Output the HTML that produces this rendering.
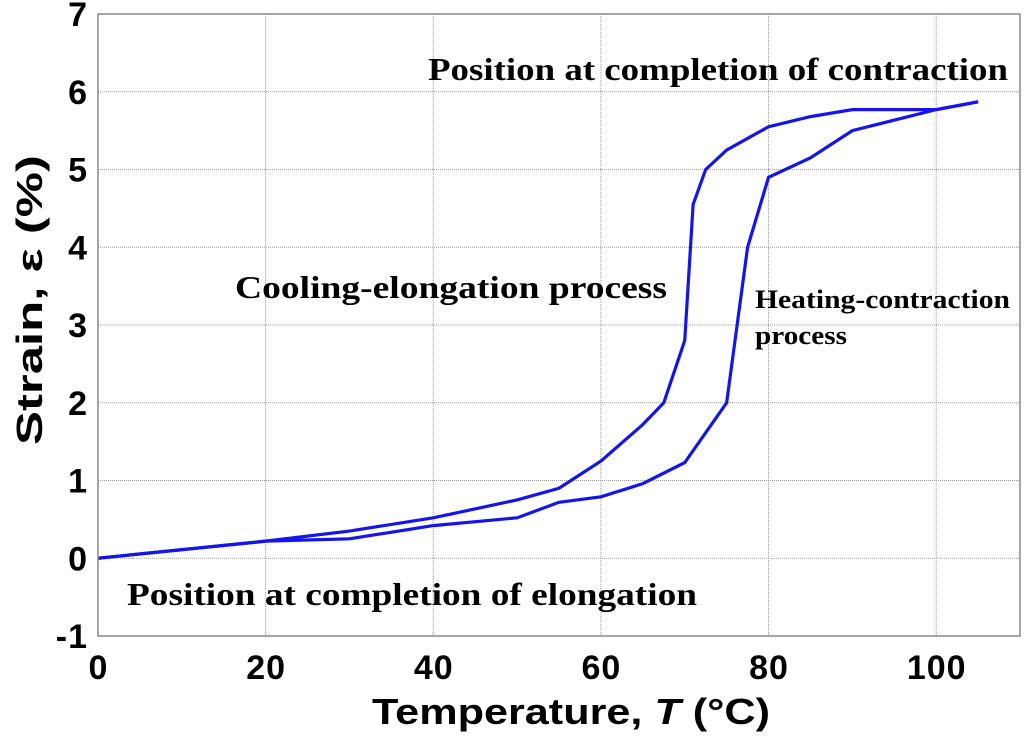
<!DOCTYPE html>
<html><head><meta charset="utf-8"><style>
body{margin:0;background:#fff;}
svg text{font-family:"Liberation Sans",sans-serif;}
.tk{font-size:34px;font-weight:bold;fill:#000;letter-spacing:1px;}
.an{font-family:"Liberation Serif",serif !important;font-weight:bold;fill:#000;}
</style></head><body>
<svg id="c" width="1024" height="732" xmlns="http://www.w3.org/2000/svg">
<g id="grid"></g>
<g id="ticks"></g>
<g id="lines"></g>
<rect x="98" y="14" width="922" height="622" fill="none" stroke="#888" stroke-width="1.5"/>
<text class="an" x="428" y="80" font-size="32" textLength="580" lengthAdjust="spacingAndGlyphs">Position at completion of contraction</text>
<text class="an" x="235" y="298" font-size="32" textLength="432" lengthAdjust="spacingAndGlyphs">Cooling-elongation process</text>
<text class="an" x="755" y="308" font-size="26" textLength="255" lengthAdjust="spacingAndGlyphs">Heating-contraction</text>
<text class="an" x="755" y="344" font-size="26" textLength="92" lengthAdjust="spacingAndGlyphs">process</text>
<text class="an" x="127" y="605" font-size="32" textLength="570" lengthAdjust="spacingAndGlyphs">Position at completion of elongation</text>
<text x="372" y="724" font-size="36" font-weight="bold" textLength="398" lengthAdjust="spacingAndGlyphs">Temperature, <tspan font-style="italic">T</tspan> (°C)</text>
<text transform="translate(42,445) rotate(-90)" font-size="36" font-weight="bold" textLength="290" lengthAdjust="spacingAndGlyphs">Strain, ε (%)</text>
</svg>
<script>
const xTicks=[0,20,40,60,80,100];
const yTicks=[-1,0,1,2,3,4,5,6,7];
const heatT=[0,20,30,40,50,55,60,65,70,75,77.5,80,85,90,100,105];
const heatS=[0,0.22,0.25,0.42,0.52,0.72,0.79,0.96,1.23,2.0,4.0,4.9,5.15,5.5,5.77,5.87];
const coolT=[105,100,90,85,80,75,72.5,71,70,67.5,65,60,55,50,40,30,20,0];
const coolS=[5.87,5.77,5.77,5.68,5.55,5.25,5.0,4.55,2.8,2.0,1.72,1.25,0.9,0.75,0.52,0.35,0.22,0];
const X0=98,X1=1020,Y0=636,Y1=14,xmin=0,xmax=110,ymin=-1,ymax=7;
const sx=v=>X0+(v-xmin)/(xmax-xmin)*(X1-X0);
const sy=v=>Y0-(v-ymin)/(ymax-ymin)*(Y0-Y1);
const NS="http://www.w3.org/2000/svg";
function mk(t,a,p){const e=document.createElementNS(NS,t);for(const k in a)e.setAttribute(k,a[k]);p.appendChild(e);return e;}
const g=document.getElementById('grid'),tk=document.getElementById('ticks'),ln=document.getElementById('lines');
xTicks.forEach(v=>{
 const l=mk('line',{x1:sx(v),x2:sx(v),y1:Y1,y2:Y0,stroke:'#999','stroke-width':1,'stroke-dasharray':'1,1'},g);
 
 
 const t=mk('text',{x:sx(v)+0.5,y:679,'text-anchor':'middle',class:'tk'},tk);t.textContent=v;
 
 
});
yTicks.forEach(v=>{
 const l=mk('line',{x1:X0,x2:X1,y1:sy(v),y2:sy(v),stroke:'#999','stroke-width':1,'stroke-dasharray':'1,1'},g);
 
 
 const t=mk('text',{x:88,y:sy(v)+12,'text-anchor':'end',class:'tk'},tk);t.textContent=v;
 
 
});
function path(xs,ys,name){
 const p=mk('polyline',{points:xs.map((x,i)=>sx(x)+','+sy(ys[i])).join(' '),fill:'none',stroke:'#1414f0','stroke-width':3.2,'stroke-linejoin':'miter'},ln);
 
 
}
path(heatT,heatS,'heating-contraction-line');
path(coolT,coolS,'cooling-elongation-line');
</script>
</body></html>
